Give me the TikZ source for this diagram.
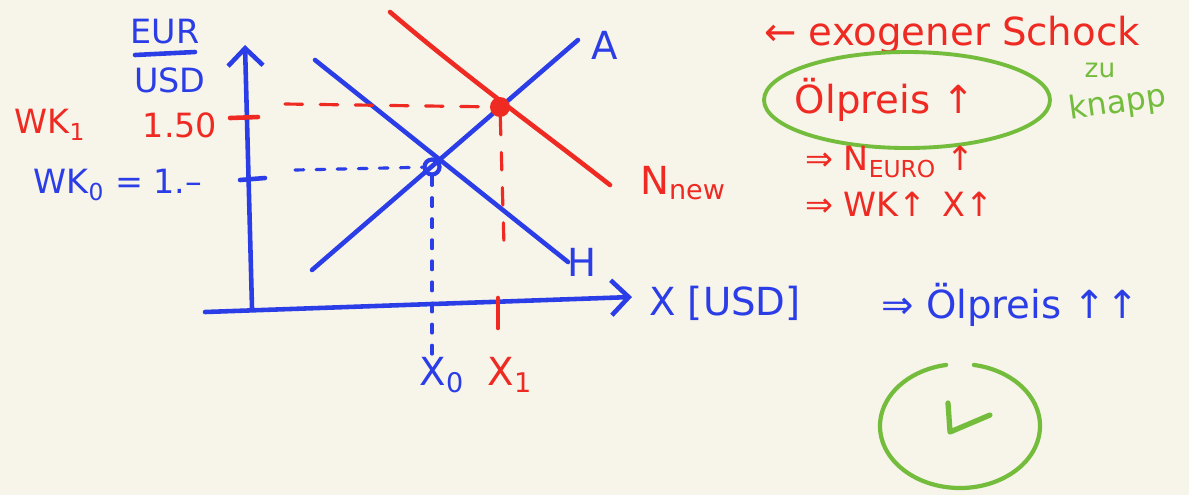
\documentclass[tikz,border=0pt]{standalone}
\usepackage{fontspec}
\setmainfont{DejaVu Sans}
\usetikzlibrary{positioning, arrows.meta}
\definecolor{penblue}{HTML}{2B3DE6}
\definecolor{penred}{HTML}{EE2A22}
\definecolor{pengreen}{HTML}{74BC3C}
\definecolor{paper}{HTML}{F7F4EA}

\begin{document}
\begin{tikzpicture}[x=0.02cm, y=-0.02cm, line cap=round, line join=round,
    pen/.style={line width=2.6pt},
    axis/.style={pen, penblue, -{Straight Barb[length=3.5mm, width=7mm, line width=2.6pt]}},
    hand/.style={font=\fontsize{22}{24}\selectfont, inner sep=1pt},
    small/.style={font=\fontsize{19}{21}\selectfont, inner sep=1pt},
    reddash/.style={line width=1.8pt, penred, dash pattern=on 10pt off 10pt},
    bluedot/.style={line width=1.8pt, penblue, dash pattern=on 5pt off 7pt}]
    \fill[paper] (0,0) rectangle (1189,495);
    \useasboundingbox (0,0) rectangle (1189,495);

    % axes
    \coordinate (o) at (252,308);
    \coordinate (ytop) at (245,45);
    \coordinate (xend) at (632,297);
    \coordinate (xstart) at (205,312);
    \draw[axis] (o) -- (ytop);
    \draw[axis] (xstart) -- (xend);

    % curves
    \coordinate (a0) at (312,270);
    \coordinate (a1) at (578,40);
    \coordinate (h0) at (315,60);
    \coordinate (h1) at (568,262);
    \coordinate (n0) at (390,12);
    \coordinate (n1) at (610,185);
    \draw[pen, penblue] (a0) -- (a1);
    \draw[pen, penblue] (h0) -- (h1);
    \draw[pen, penred] (n0) .. controls (470,80) and (540,130) .. (n1);

    \node[draw=penblue, circle, line width=2.4pt, minimum size=0.3cm, inner sep=0pt] (e0) at (432,167) {};
    \node[fill=penred, circle, minimum size=0.4cm, inner sep=0pt] (e1) at (500,107) {};

    % ticks and guides
    \coordinate (t1l) at (230,118);
    \coordinate (t1r) at (258,117);
    \coordinate (t0l) at (240,180);
    \coordinate (t0r) at (265,178);
    \coordinate (g1) at (285,104);
    \coordinate (g0) at (295,170);
    \coordinate (v1) at (504,245);
    \coordinate (v0) at (432,355);
    \coordinate (x1t) at (498,298);
    \coordinate (x1b) at (498,328);
    \draw[pen, penred] (t1l) -- (t1r);
    \draw[pen, penblue] (t0l) -- (t0r);
    \draw[reddash] (g1) -- (e1);
    \draw[reddash] (e1) -- (v1);
    \draw[pen, penred] (x1t) -- (x1b);
    \draw[bluedot] (g0) -- (e0);
    \draw[bluedot] (e0) -- (v0);

    % labels at the axes
    \node[small, penblue] (eur) at (165,32) {EUR};
    \draw[pen, penblue] (135,55) -- (195,52);
    \node[small, penblue] (usd) at (170,80) {USD};
    \node[small, penred] (wk1) at (50,125) {WK\textsubscript{1}};
    \node[small, penred] (v150) at (180,125) {1.50};
    \node[small, penblue] (wk0) at (118,185) {WK\textsubscript{0} = 1.–};
    \node[hand, penblue] (xlab) at (725,303) {X [USD]};
    \node[hand, penblue] (x0) at (442,375) {X\textsubscript{0}};
    \node[hand, penred] (x1) at (510,375) {X\textsubscript{1}};
    \node[hand, penblue] (alab) at (605,45) {A};
    \node[hand, penblue] (hlab) at (582,262) {H};
    \node[hand, penred] (nlab) at (683,183) {N\textsubscript{new}};

    % notes on the right
    \node[hand, penred] (shock) at (952,35) {← exogener Schock};
    \node[hand, penred] (oil) at (885,100) {Ölpreis ↑};
    \draw[pengreen, line width=2.2pt] (907,100) ellipse [x radius=143, y radius=48];
    \node[small, pengreen, font=\fontsize{15}{17}\selectfont] (zu) at (1100,70) {zu};
    \node[small, pengreen, rotate=8, font=\fontsize{18}{20}\selectfont] (knapp) at (1118,104) {knapp};
    \node[small, penred] (row1) at (890,162) {⇒ N\textsubscript{EURO} ↑};
    \node[small, penred, below=0.2cm of row1.south west, anchor=north west] (row2) {⇒ WK↑ \,X↑};
    \node[hand, penblue] (row3) at (1010,305) {⇒ Ölpreis ↑↑};

    % check
    \coordinate (ck) at (960,426);
    \draw[pengreen, line width=2.4pt] (ck) ++(280:80 and 62) arc[start angle=280, end angle=620, x radius=80, y radius=62];
    \draw[pengreen, line width=3pt] (948,403) -- (950,432) -- (990,415);
\end{tikzpicture}
\end{document}
